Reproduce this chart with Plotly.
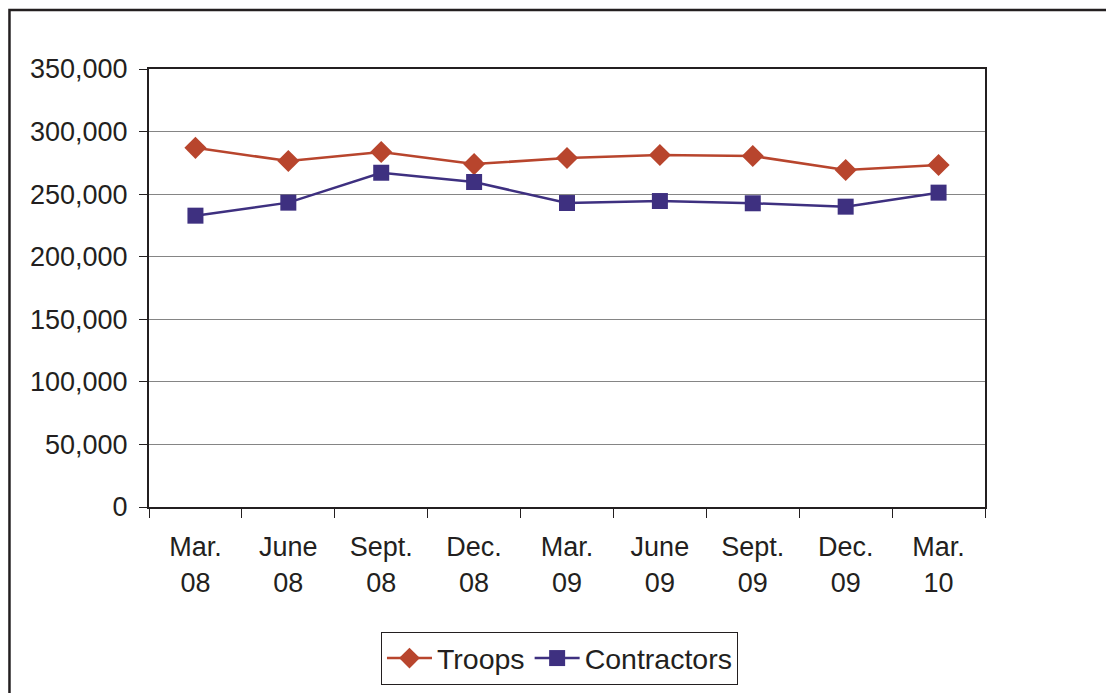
import plotly.graph_objects as go

quarters = ["Mar.<br>08", "June<br>08", "Sept.<br>08", "Dec.<br>08", "Mar.<br>09",
            "June<br>09", "Sept.<br>09", "Dec.<br>09", "Mar.<br>10"]
troops = [287000, 276500, 283700, 274000, 278900, 281300, 280500, 269300, 273300]
contractors = [232800, 243200, 267100, 259700, 242900, 244500, 242700, 240000, 251200]

FONT = dict(family="Liberation Sans, Arial, sans-serif", size=27, color="#231f20")

fig = go.Figure()
fig.add_trace(go.Scatter(
    x=quarters, y=troops, name="Troops", mode="lines+markers",
    line=dict(color="#B8452D", width=2.5),
    marker=dict(symbol="diamond", size=17, color="#B8452D"),
))
fig.add_trace(go.Scatter(
    x=quarters, y=contractors, name="Contractors", mode="lines+markers",
    line=dict(color="#3E3080", width=2.5),
    marker=dict(symbol="square", size=16, color="#3E3080"),
))

# page has an 8px body margin, so the figure is drawn 8px in and down
fig.update_layout(
    width=1106, height=685,
    margin=dict(l=141, r=129, t=61, b=186, autoexpand=False),
    paper_bgcolor="white", plot_bgcolor="white",
    font=FONT,
    showlegend=True,
    legend=dict(
        orientation="h", x=0.491, xanchor="center",
        yref="container", y=0.089, yanchor="top",
        bordercolor="#231f20", borderwidth=1, font=dict(FONT, size=28.5),
        itemwidth=45, tracegroupgap=0,
    ),
    shapes=[dict(
        type="rect", xref="paper", yref="paper",
        x0=-0.1669, x1=1.25, y0=-0.5, y1=1.1347,
        line=dict(color="#231f20", width=2.5),
    )],
)

fig.update_xaxes(
    type="category", range=[-0.5, len(quarters) - 0.5],
    tickson="boundaries", ticks="outside", ticklen=9,
    tickcolor="#231f20", showline=True, linecolor="#231f20", linewidth=2,
    mirror=True, showgrid=False, tickfont=FONT, ticklabelstandoff=15,
    automargin=False,
)
fig.update_yaxes(
    range=[0, 350000], dtick=50000, tickformat=",d", ticks="outside", ticklen=8,
    tickcolor="#231f20", showline=True, linecolor="#231f20", linewidth=2,
    mirror=True, showgrid=True, gridcolor="#858585", gridwidth=1,
    zeroline=False, tickfont=FONT, ticklabelstandoff=6, automargin=False,
)

fig.write_html("out.html")
